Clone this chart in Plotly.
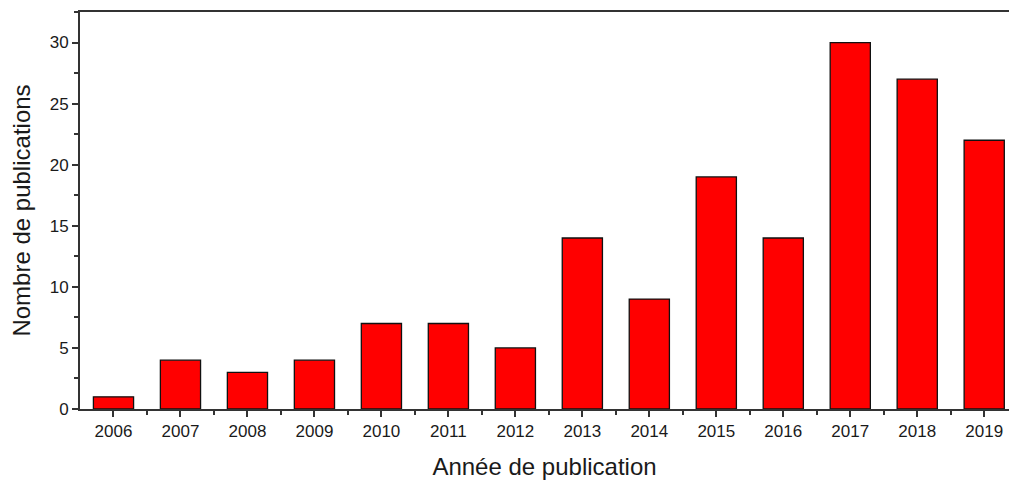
import plotly.graph_objects as go

years = ["2006", "2007", "2008", "2009", "2010", "2011", "2012",
         "2013", "2014", "2015", "2016", "2017", "2018", "2019"]
counts = [1, 4, 3, 4, 7, 7, 5, 14, 9, 19, 14, 30, 27, 22]
positions = list(range(len(years)))

fig = go.Figure(go.Bar(
    x=positions, y=counts, width=0.6,
    marker=dict(color="#ff0000", line=dict(color="#111111", width=1.3)),
))

FAM = "Liberation Sans, Arial, sans-serif"
fig.update_layout(
    width=1009, height=481,
    margin=dict(l=80, r=0, t=12, b=72),
    plot_bgcolor="white", paper_bgcolor="white",
    showlegend=False,
    font=dict(family=FAM, size=17, color="#1a1a1a"),
)
fig.update_xaxes(
    range=[-0.5, 13.37],
    tickvals=positions, ticktext=years,
    tickfont=dict(family=FAM, size=17, color="#1a1a1a"),
    ticks="outside", ticklen=6, tickwidth=1.5, tickcolor="#333",
    minor=dict(tickvals=[p + 0.5 for p in positions], ticks="outside",
               ticklen=4, tickwidth=1.5, tickcolor="#333"),
    showline=True, linecolor="#333", linewidth=2, mirror=True,
    showgrid=False, zeroline=False,
    title=dict(text="Année de publication",
               font=dict(family=FAM, size=24, color="#1a1a1a"),
               standoff=18),
)
fig.update_yaxes(
    range=[0, 32.5],
    tickvals=[0, 5, 10, 15, 20, 25, 30],
    tickfont=dict(family=FAM, size=17, color="#1a1a1a"),
    ticks="outside", ticklen=6, tickwidth=1.5, tickcolor="#333",
    minor=dict(tickvals=[2.5, 7.5, 12.5, 17.5, 22.5, 27.5, 32.5], ticks="outside",
               ticklen=4, tickwidth=1.5, tickcolor="#333"),
    showline=True, linecolor="#333", linewidth=2,
    showgrid=False, zeroline=False,
    title=dict(text="Nombre de publications",
               font=dict(family=FAM, size=24, color="#1a1a1a"),
               standoff=12),
)

fig.write_html("out.html", config={"displayModeBar": False},
               post_script="document.body.style.margin='0';")
